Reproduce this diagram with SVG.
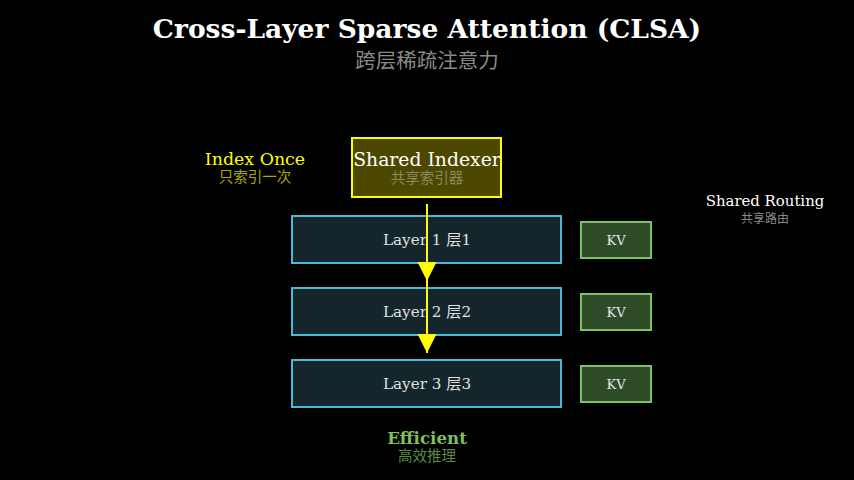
<svg xmlns="http://www.w3.org/2000/svg" width="854" height="480" viewBox="0 0 854 480">
<style>
.serif{font-family:"DejaVu Serif","Noto Sans CJK SC",serif}
.cjk{font-family:"Noto Sans CJK SC","DejaVu Sans",sans-serif}
.layer rect{fill:#14262c;stroke:#4bbad6;stroke-width:2}
.layer text{font-size:15.2px;fill:#e0e0e0;text-anchor:middle}
.kv rect{fill:#2f4c29;stroke:#80c064;stroke-width:2}
.kv text{font-size:13px;fill:#e6e6e6;text-anchor:middle}
.mid{text-anchor:middle}
</style>
<defs>
<marker id="ah" markerUnits="userSpaceOnUse" markerWidth="20" markerHeight="20" refX="19" refY="10" orient="auto">
<polygon points="0,0.5 19,10 0,19.5" fill="#ffff00"/>
</marker>
</defs>
<rect width="854" height="480" fill="#000"/>
<g id="title">
<text class="serif mid" x="427" y="38" font-size="26.5" font-weight="bold" fill="#ffffff">Cross-Layer Sparse Attention (CLSA)</text>
<text class="cjk mid" x="427" y="68" font-size="20.5" fill="#8a8a8a">跨层稀疏注意力</text>
</g>
<g id="index-once">
<text class="serif mid" x="255" y="165" font-size="17.4" fill="#ffff00">Index Once</text>
<text class="cjk mid" x="255" y="182" font-size="14.5" fill="#a8a800">只索引一次</text>
</g>
<g id="shared-indexer">
<rect x="352" y="138" width="149" height="59" fill="#4d4800" stroke="#ffff00" stroke-width="2"/>
<text class="serif mid" x="427" y="166" font-size="18.8" fill="#ffffff">Shared Indexer</text>
<text class="cjk mid" x="427" y="183" font-size="14.5" fill="#8c8a60">共享索引器</text>
</g>
<g id="layer1" class="layer serif">
<rect x="292" y="216" width="269" height="47"/>
<text x="427" y="245">Layer 1 层1</text>
</g>
<g id="layer2" class="layer serif">
<rect x="292" y="288" width="269" height="47"/>
<text x="427" y="317">Layer 2 层2</text>
</g>
<g id="layer3" class="layer serif">
<rect x="292" y="360" width="269" height="47"/>
<text x="427" y="389">Layer 3 层3</text>
</g>
<g id="kv1" class="kv serif">
<rect x="581" y="222" width="70" height="36"/>
<text x="616" y="245">KV</text>
</g>
<g id="kv2" class="kv serif">
<rect x="581" y="294" width="70" height="36"/>
<text x="616" y="317">KV</text>
</g>
<g id="kv3" class="kv serif">
<rect x="581" y="366" width="70" height="36"/>
<text x="616" y="389">KV</text>
</g>
<g id="shared-routing">
<text class="serif mid" x="765" y="206" font-size="14.9" fill="#ffffff">Shared Routing</text>
<text class="cjk mid" x="765" y="223" font-size="12" fill="#8a8a8a">共享路由</text>
</g>
<g id="efficient">
<text class="serif mid" x="427" y="444" font-size="16.7" font-weight="bold" fill="#7fbf5f">Efficient</text>
<text class="cjk mid" x="427" y="461" font-size="14.5" fill="#5a8a44">高效推理</text>
</g>
<g id="connectors" stroke="#ffff00" stroke-width="2" fill="none">
<line x1="427" y1="204" x2="427" y2="281" marker-end="url(#ah)"/>
<line x1="427" y1="281" x2="427" y2="353" marker-end="url(#ah)"/>
</g>
</svg>
